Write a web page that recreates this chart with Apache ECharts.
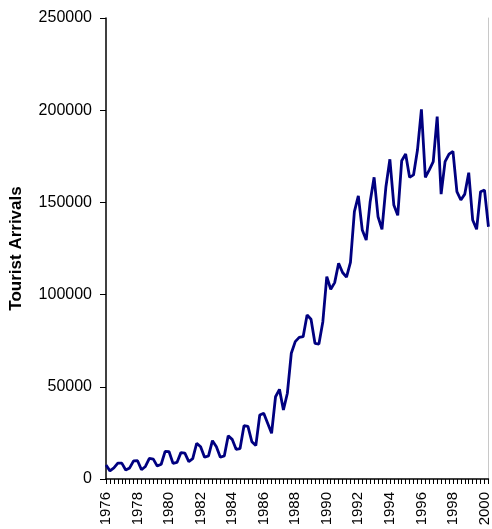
<!DOCTYPE html>
<html>
<head>
<meta charset="utf-8">
<script src="https://cdn.jsdelivr.net/npm/echarts@6/dist/echarts.min.js"></script>
<style>
html,body{margin:0;padding:0;background:#fff;}
#chart{width:492px;height:529px;}
</style>
</head>
<body>
<div id="chart"></div>
<script>
// Quarterly tourist arrivals, 1976 Q1 to 2000 Q1
const startYear = 1976;
const endYear = 2000;
const quarters = ['Q1', 'Q2', 'Q3', 'Q4'];
const arrivals = [
  7600, 4400, 6000, 8600, 8600, 4900, 6000, 9800,
  9900, 5000, 6800, 11200, 10800, 7000, 8000, 15000,
  14800, 8500, 9000, 14300, 14000, 9400, 11000, 19400,
  17500, 11800, 12500, 20800, 17500, 11800, 12500, 23500,
  21500, 16100, 16500, 28900, 28500, 20200, 18100, 34700,
  35600, 30200, 24800, 44600, 48600, 37400, 46500, 68200,
  74500, 76800, 77200, 88900, 86600, 73600, 73200, 85300,
  109700, 102900, 106500, 117000, 112000, 109500, 117500, 145000,
  153500, 135000, 129600, 150400, 163600, 142200, 135400, 158500,
  173400, 148600, 143000, 172600, 176200, 163600, 164900, 178400,
  200500, 163600, 167600, 172100, 196500, 154500, 172100, 176200,
  177700, 155800, 151300, 154500, 166100, 140500, 135400, 155800,
  156700, 136800
];
const yTickStep = 50000;
const yMax = 250000;

const categories = [];
for (let y = startYear; y <= endYear; y++) {
  for (const q of quarters) {
    if (categories.length < arrivals.length) categories.push(y + ' ' + q);
  }
}

const chart = echarts.init(document.getElementById('chart'));
const font = 'Liberation Sans, Arial, sans-serif';
chart.setOption({
  animation: false,
  backgroundColor: '#ffffff',
  grid: { left: 106, right: 2, top: 18, bottom: 50, containLabel: false },
  xAxis: {
    type: 'category',
    data: categories,
    boundaryGap: false,
    axisLine: { show: true, lineStyle: { color: '#000', width: 1.5 } },
    axisTick: { show: true, interval: 0, length: 5, lineStyle: { color: '#000', width: 1 } },
    axisLabel: {
      interval: 7,
      rotate: 90,
      margin: 13,
      fontSize: 15,
      color: '#000',
      fontFamily: font,
      formatter: v => v.slice(0, 4)
    },
    splitLine: { show: false }
  },
  yAxis: [{
    type: 'value',
    min: 0,
    max: yMax,
    interval: yTickStep,
    name: 'Tourist Arrivals',
    nameLocation: 'middle',
    nameGap: 81,
    nameRotate: 90,
    nameTextStyle: { fontSize: 17, fontWeight: 'bold', color: '#000', fontFamily: font },
    axisLine: { show: true, lineStyle: { color: '#000', width: 1.5 } },
    axisTick: { show: true, length: 6, lineStyle: { color: '#000', width: 1 } },
    axisLabel: { margin: 14, fontSize: 16, color: '#000', fontFamily: font, formatter: v => String(v) },
    splitLine: { show: false }
  }, {
    type: 'value',
    position: 'right',
    min: 0,
    max: yMax,
    interval: yTickStep,
    axisLine: { show: true, lineStyle: { color: '#c8c8c8', width: 1 } },
    axisTick: { show: false },
    axisLabel: { show: false },
    splitLine: { show: false }
  }],
  series: [{
    type: 'line',
    data: arrivals,
    yAxisIndex: 0,
    symbol: 'none',
    lineStyle: { color: '#000080', width: 2.8 },
    itemStyle: { color: '#000080' }
  }]
});
</script>
</body>
</html>
